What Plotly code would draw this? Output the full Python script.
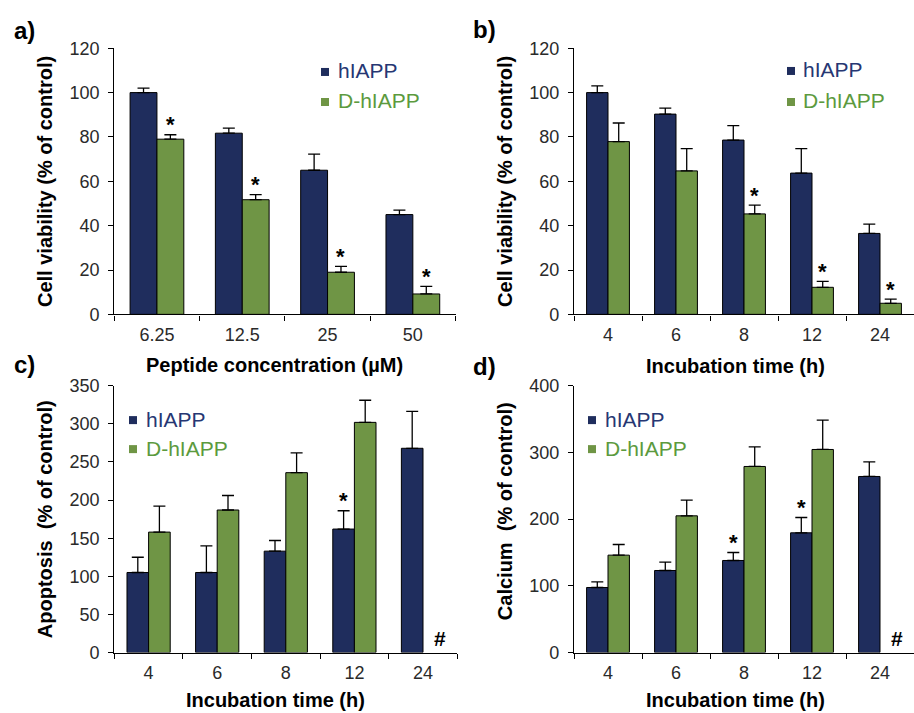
import plotly.graph_objects as go

# ---------------- data ----------------
conc_labels = ["6.25", "12.5", "25", "50"]
time_labels = ["4", "6", "8", "12", "24"]
series_names = ["hIAPP", "D-hIAPP"]

a_h = [100, 81.7, 65, 45]
a_h_err = [2, 2.3, 7.3, 2]
a_d = [79, 51.7, 19, 9.2]
a_d_err = [2, 2.3, 2.6, 3.4]
a_h_sig = [False, False, False, False]
a_d_sig = [True, True, True, True]

b_h = [100, 90.3, 78.6, 63.7, 36.5]
b_h_err = [3, 2.7, 6.5, 11, 4.2]
b_d = [77.9, 64.7, 45.3, 12.2, 5.0]
b_d_err = [8.4, 10, 4, 2.7, 1.9]
b_h_sig = [False, False, False, False, False]
b_d_sig = [False, False, True, True, True]

c_h = [105, 105, 133, 162, 268]
c_h_err = [20, 35, 14, 24, 48.5]
c_d = [158, 187, 236, 302, None]
c_d_err = [34, 19, 26, 29, None]
c_h_sig = [False, False, False, True, False]
c_d_sig = [False, False, False, False, False]

d_h = [97.5, 123, 138, 179.5, 264]
d_h_err = [8.5, 12.5, 12, 23, 22]
d_d = [146, 205, 279, 304.5, None]
d_d_err = [16, 23.5, 29.5, 44, None]
d_h_sig = [False, False, True, True, False]
d_d_sig = [False, False, False, False, False]

# ---------------- style ----------------
W = 914
HL = 722            # layout height
OFF_Y, SC_Y = 10.06, 0.9719   # observed page -> photo vertical mapping
NAVY = "#1f2d5d"
GREEN = "#6f9545"
NAVY_TXT = "#263773"
GREEN_TXT = "#5c9a3e"
FONT = "Liberation Sans, Arial, sans-serif"
BARGAP = 0.37
HALF = (1 - BARGAP) / 4  # centre offset of each bar in a group of two

def px(x):
    return x / W

def py(y):
    return 1 - ((y - OFF_Y) / SC_Y) / HL

fig = go.Figure()

panels = [
    (conc_labels, a_h, a_h_err, a_d, a_d_err, a_h_sig, a_d_sig, "x", "y"),
    (time_labels, b_h, b_h_err, b_d, b_d_err, b_h_sig, b_d_sig, "x2", "y2"),
    (time_labels, c_h, c_h_err, c_d, c_d_err, c_h_sig, c_d_sig, "x3", "y3"),
    (time_labels, d_h, d_h_err, d_d, d_d_err, d_h_sig, d_d_sig, "x4", "y4"),
]

annotations = []
for cats, hv, he, dv, de, hs, ds, xa, ya in panels:
    for name, vals, errs, col in [(series_names[0], hv, he, NAVY), (series_names[1], dv, de, GREEN)]:
        fig.add_trace(go.Bar(
            x=cats, y=vals, name=name, xaxis=xa, yaxis=ya,
            marker=dict(color=col, line=dict(color="black", width=1)),
            error_y=dict(type="data", symmetric=False,
                         array=[e if e is not None else 0 for e in errs],
                         arrayminus=[0] * len(errs),
                         color="black", thickness=1.3, width=6),
            showlegend=False,
        ))
    for i in range(len(cats)):
        for vals, errs, sig, sgn in [(hv, he, hs, -1), (dv, de, ds, 1)]:
            if sig[i] and vals[i] is not None:
                annotations.append(dict(
                    x=i + sgn * HALF, y=vals[i] + errs[i], xref=xa, yref=ya,
                    text="<b>*</b>", showarrow=False, yanchor="middle",
                    yshift=10, font=dict(family=FONT, size=22, color="black")))
        if dv[i] is None:
            annotations.append(dict(
                x=i + 0.25, y=0, xref=xa, yref=ya, text="<b>#</b>",
                showarrow=False, yanchor="bottom", yshift=1,
                font=dict(family=FONT, size=21, color="black")))

axis_common = dict(showline=True, linecolor="black", linewidth=1.3,
                   ticks="outside", ticklen=5, tickcolor="black", tickwidth=1.3,
                   showgrid=False, zeroline=False,
                   tickfont=dict(family=FONT, size=18, color="#2a2a2a"))

dom_a_x = [px(114.3), px(455.5)]
dom_b_x = [px(574), 1.0]
dom_c_x = [px(114.3), px(457.3)]
dom_top_y = [py(314.3), py(48.3)]
dom_bot_y = [py(652.3), py(385.7)]

def xax(dom, anchor):
    return dict(domain=dom, anchor=anchor, type="category", tickson="boundaries",
                ticklabelstandoff=4, **axis_common)

def yax(dom, anchor, ymax, dt):
    return dict(domain=dom, anchor=anchor, range=[0, ymax], dtick=dt,
                ticklabelstandoff=5, **axis_common)

fig.update_layout(
    xaxis=xax(dom_a_x, "y"), yaxis=yax(dom_top_y, "x", 120, 20),
    xaxis2=xax(dom_b_x, "y2"), yaxis2=yax(dom_top_y, "x2", 120, 20),
    xaxis3=xax(dom_c_x, "y3"), yaxis3=yax(dom_bot_y, "x3", 350, 50),
    xaxis4=xax(dom_b_x, "y4"), yaxis4=yax(dom_bot_y, "x4", 400, 100),
)

# axis titles
title_font = dict(family=FONT, size=20, color="black")
for text, x, y, ang in [
    ("<b>Cell viability (% of control)</b>", 45, 182, -90),
    ("<b>Cell viability (% of control)</b>", 505, 182, -90),
    ("<b>Apoptosis  (% of control)</b>", 45, 519, -90),
    ("<b>Calcium  (% of control)</b>", 505, 511, -90),
    ("<b>Peptide concentration (µM)</b>", 274, 365, 0),
    ("<b>Incubation time (h)</b>", 735, 366, 0),
    ("<b>Incubation time (h)</b>", 275, 700, 0),
    ("<b>Incubation time (h)</b>", 735, 700, 0),
]:
    annotations.append(dict(x=px(x), y=py(y), xref="paper", yref="paper", text=text,
                            textangle=ang, showarrow=False, xanchor="center",
                            yanchor="middle", font=title_font))

# panel labels
for text, x, y in [("a)", 24, 31), ("b)", 484, 30), ("c)", 24, 364), ("d)", 484, 366)]:
    annotations.append(dict(x=px(x), y=py(y), xref="paper", yref="paper",
                            text="<b>" + text + "</b>", showarrow=False,
                            xanchor="center", yanchor="middle",
                            font=dict(family=FONT, size=24, color="black")))

# legends (square + coloured text)
shapes = []
for sx, tx, y1, y2 in [(325, 336, 71, 101), (791, 801, 70, 101),
                       (133, 144, 419, 448), (592, 603, 419, 448)]:
    for name, col, tcol, yy in [(series_names[0], NAVY, NAVY_TXT, y1),
                                (series_names[1], GREEN, GREEN_TXT, y2)]:
        shapes.append(dict(type="rect", xref="paper", yref="paper",
                           x0=px(sx - 4), x1=px(sx + 4), y0=py(yy + 5), y1=py(yy - 3),
                           fillcolor=col, line=dict(width=0)))
        annotations.append(dict(x=px(tx), y=py(yy), xref="paper", yref="paper",
                                text=name, showarrow=False, xanchor="left",
                                yanchor="middle",
                                font=dict(family=FONT, size=21, color=tcol)))

fig.update_layout(
    width=W, height=HL, margin=dict(l=0, r=0, t=0, b=0),
    paper_bgcolor="white", plot_bgcolor="white",
    barmode="group", bargap=BARGAP, bargroupgap=0,
    annotations=annotations, shapes=shapes, showlegend=False,
)

reset_css = (
    "var de=document.documentElement, bd=document.body;"
    "de.style.margin='0';de.style.padding='0';de.style.overflow='hidden';"
    "bd.style.margin='0';bd.style.padding='0';bd.style.overflow='hidden';"
)

fig.write_html(
    "out.html",
    config={"displayModeBar": False, "responsive": False},
    post_script=reset_css,
)
